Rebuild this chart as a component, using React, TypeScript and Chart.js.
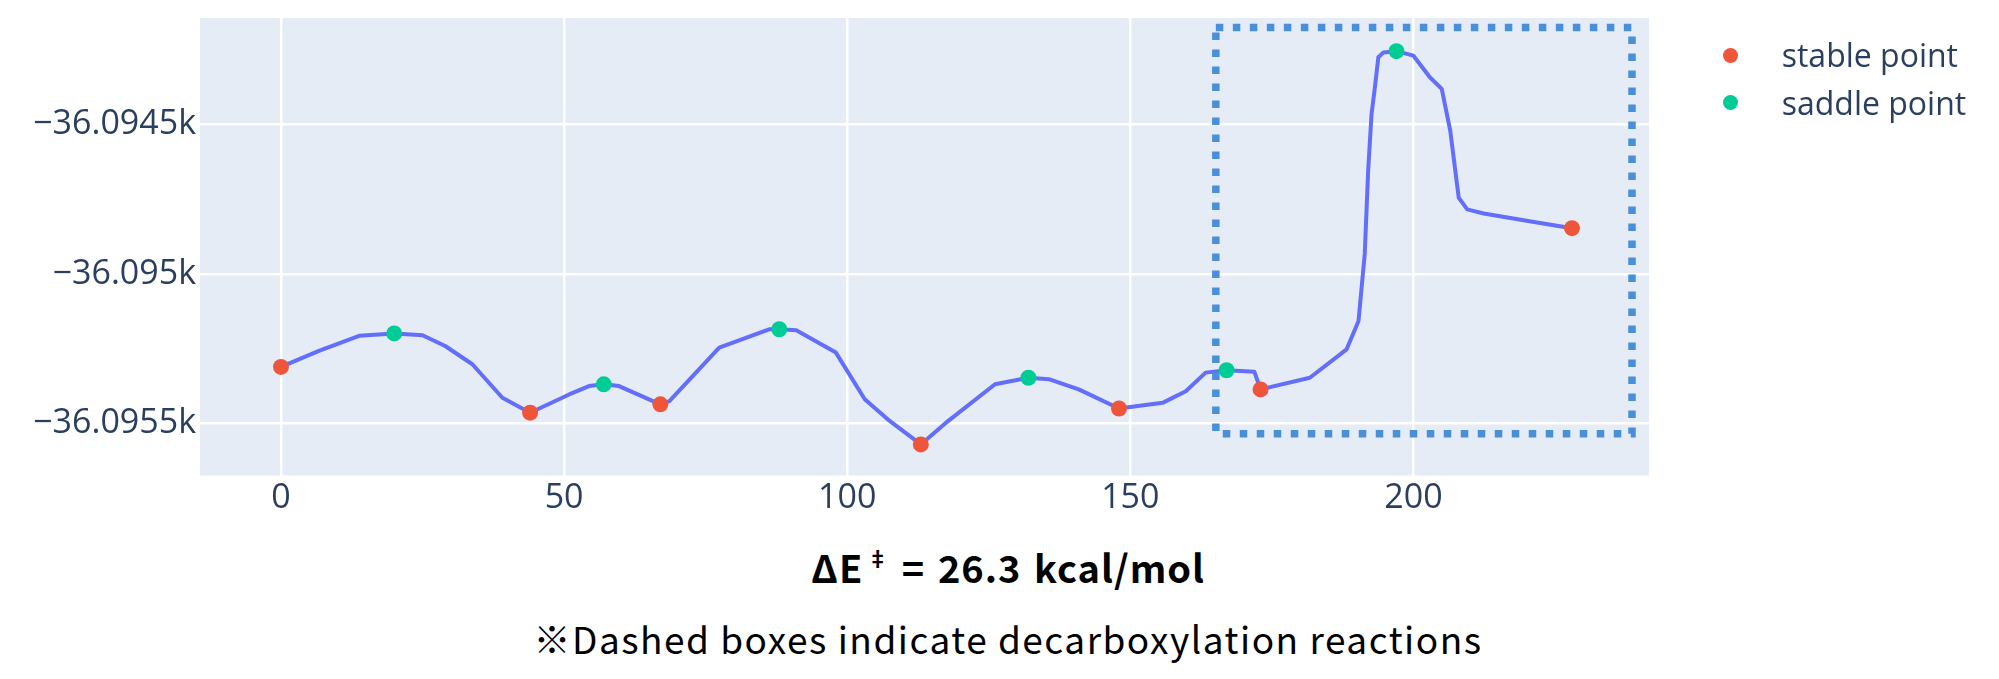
import { useEffect, useRef } from "react";
import Chart from "chart.js/auto";

// reaction path (x = image index, energy in eV)
const pathX = [0, 6.7, 13.8, 20, 25, 29, 33.8, 39.1, 44, 50.9, 54.4, 57, 59.7, 67, 68.6, 77.4, 86.2, 88, 91, 98, 103.1, 107.2, 113, 117.8, 126.1, 132, 135.6, 140.9, 148, 155.7, 159.8, 163.3, 167, 171.9, 173, 181.7, 188.2, 190.3, 191.4, 192, 192.6, 193.2, 193.8, 194.7, 197, 200, 202.9, 205, 206.5, 208, 209.5, 212.4, 221.3, 228];
const pathE = [-36095.311, -36095.257, -36095.207, -36095.199, -36095.205, -36095.241, -36095.302, -36095.414, -36095.464, -36095.403, -36095.375, -36095.369, -36095.375, -36095.436, -36095.425, -36095.246, -36095.185, -36095.185, -36095.188, -36095.263, -36095.419, -36095.487, -36095.57, -36095.492, -36095.369, -36095.347, -36095.352, -36095.386, -36095.45, -36095.431, -36095.392, -36095.33, -36095.322, -36095.327, -36095.386, -36095.347, -36095.252, -36095.157, -36094.933, -36094.655, -36094.465, -36094.375, -36094.275, -36094.259, -36094.255, -36094.27, -36094.342, -36094.381, -36094.521, -36094.745, -36094.784, -36094.798, -36094.826, -36094.847];

const stableX = [0, 44, 67, 113, 148, 173, 228];
const stableE = [-36095.311, -36095.464, -36095.436, -36095.57, -36095.45, -36095.386, -36094.847];
const saddleX = [20, 57, 88, 132, 167, 197];
const saddleE = [-36095.199, -36095.369, -36095.185, -36095.347, -36095.322, -36094.255];

const xTicks = [0, 50, 100, 150, 200];
const yTicks = [-36095.5, -36095, -36094.5];
const yTickLabels = ["\u221236.0955k", "\u221236.095k", "\u221236.0945k"];

// decarboxylation box, in data units
const boxX = [165.1, 238.6];
const boxE = [-36095.534, -36094.176];

const legendLabels = ["stable point", "saddle point"];
const legendColors = ["#ef553b", "#00cc96"];

const plotBg = {
    id: "plotBg",
    beforeDraw(chart: any) {
        const { ctx, chartArea: a } = chart;
        ctx.save();
        ctx.fillStyle = "#e5ecf6";
        ctx.fillRect(a.left, a.top, a.width, a.height);
        ctx.restore();
    },
};

const decarbBox = {
    id: "decarbBox",
    afterDatasetsDraw(chart: any) {
        const { ctx, scales } = chart;
        const l = scales.x.getPixelForValue(boxX[0]);
        const r = scales.x.getPixelForValue(boxX[1]);
        const t = scales.y.getPixelForValue(boxE[1]);
        const b = scales.y.getPixelForValue(boxE[0]);
        ctx.save();
        ctx.strokeStyle = "#4a90d9";
        ctx.lineWidth = 7.5;
        ctx.setLineDash([7.5, 9.5]);
        ctx.strokeRect(l, t, r - l, b - t);
        ctx.restore();
    },
};

const tickFont = { family: "Open Sans", size: 34 };

const noPad = (s: any) => {
    s.paddingTop = 0;
    s.paddingBottom = 0;
    s.paddingLeft = 0;
    s.paddingRight = 0;
};

export const PathChart = () => {
    const canvasRef: any = useRef(null);

    useEffect(() => {
        const ctx = canvasRef.current.getContext("2d");
        const chart = new Chart(ctx, {
            type: "scatter",
            data: {
                datasets: [
                    {
                        label: legendLabels[0],
                        data: stableX.map((x, i) => ({ x, y: stableE[i] })),
                        backgroundColor: legendColors[0],
                        pointRadius: 8,
                        pointBorderWidth: 0,
                        order: 0,
                    },
                    {
                        label: legendLabels[1],
                        data: saddleX.map((x, i) => ({ x, y: saddleE[i] })),
                        backgroundColor: legendColors[1],
                        pointRadius: 8,
                        pointBorderWidth: 0,
                        order: 1,
                    },
                    {
                        label: "path",
                        data: pathX.map((x, i) => ({ x, y: pathE[i] })),
                        showLine: true,
                        borderColor: "#636efa",
                        borderWidth: 4,
                        borderJoinStyle: "round",
                        pointRadius: 0,
                        order: 2,
                    },
                ],
            },
            options: {
                animation: false,
                responsive: true,
                maintainAspectRatio: false,
                layout: { padding: { top: 10, right: 342, left: 0, bottom: 0 } },
                plugins: { legend: { display: false }, tooltip: { enabled: false } },
                scales: {
                    x: {
                        type: "linear",
                        min: -14.3,
                        max: 241.6,
                        afterBuildTicks: (s: any) => { s.ticks = xTicks.map((v) => ({ value: v })); },
                        afterFit: (s: any) => { s.height = 62.5; noPad(s); },
                        grid: { color: "#ffffff", lineWidth: 2.5, drawTicks: false },
                        border: { display: false },
                        ticks: { padding: 2, color: "#2a3f5f", font: tickFont, maxRotation: 0 },
                    },
                    y: {
                        type: "linear",
                        min: -36095.674,
                        max: -36094.144,
                        afterBuildTicks: (s: any) => { s.ticks = yTicks.map((v) => ({ value: v })); },
                        afterFit: (s: any) => { s.width = 192; noPad(s); },
                        grid: { color: "#ffffff", lineWidth: 2.5, drawTicks: false },
                        border: { display: false },
                        ticks: {
                            padding: 4,
                            color: "#2a3f5f",
                            font: tickFont,
                            callback: (_v: any, i: number) => yTickLabels[i],
                        },
                    },
                },
            },
            plugins: [plotBg, decarbBox],
        });

        return () => {
            chart.destroy();
        };
    }, []);

    return (
        <div style={{ position: "relative", width: 1983, height: 660 }}>
            <div style={{ position: "absolute", left: 0, top: 0, width: 1983, height: 530 }}>
                <canvas ref={canvasRef}></canvas>
            </div>
            {legendLabels.map((lab, i) => (
                <div key={lab} style={{ position: "absolute", left: 0, top: 27 + i * 47.7, height: 40, width: 1983 }}>
                    <span style={{ position: "absolute", left: 1714.5, top: 12.5, width: 15, height: 15, borderRadius: "50%", background: legendColors[i] }}></span>
                    <span style={{ position: "absolute", left: 1773.7, top: 0, lineHeight: "40px", fontFamily: "Open Sans", fontSize: 32, color: "#2a3f5f", whiteSpace: "nowrap" }}>{lab}</span>
                </div>
            ))}
            <div style={{ position: "absolute", left: 0, top: 540, width: 2000, textAlign: "center", fontFamily: "'Noto Sans CJK JP'", fontWeight: 700, fontSize: 38, lineHeight: "38px", letterSpacing: 1, wordSpacing: 3, color: "#000" }}>
                ΔE<sup style={{ fontSize: "0.55em", lineHeight: 0, verticalAlign: "0.8em", marginLeft: 4 }}>‡</sup> = 26.3 kcal/mol
            </div>
            <div style={{ position: "absolute", left: 0, top: 612, width: 2000, textAlign: "center", fontFamily: "'Noto Sans CJK JP'", fontSize: 37, lineHeight: "37px", letterSpacing: 1.5, color: "#000" }}>
                ※Dashed boxes indicate decarboxylation reactions
            </div>
        </div>
    );
};

export default PathChart;
